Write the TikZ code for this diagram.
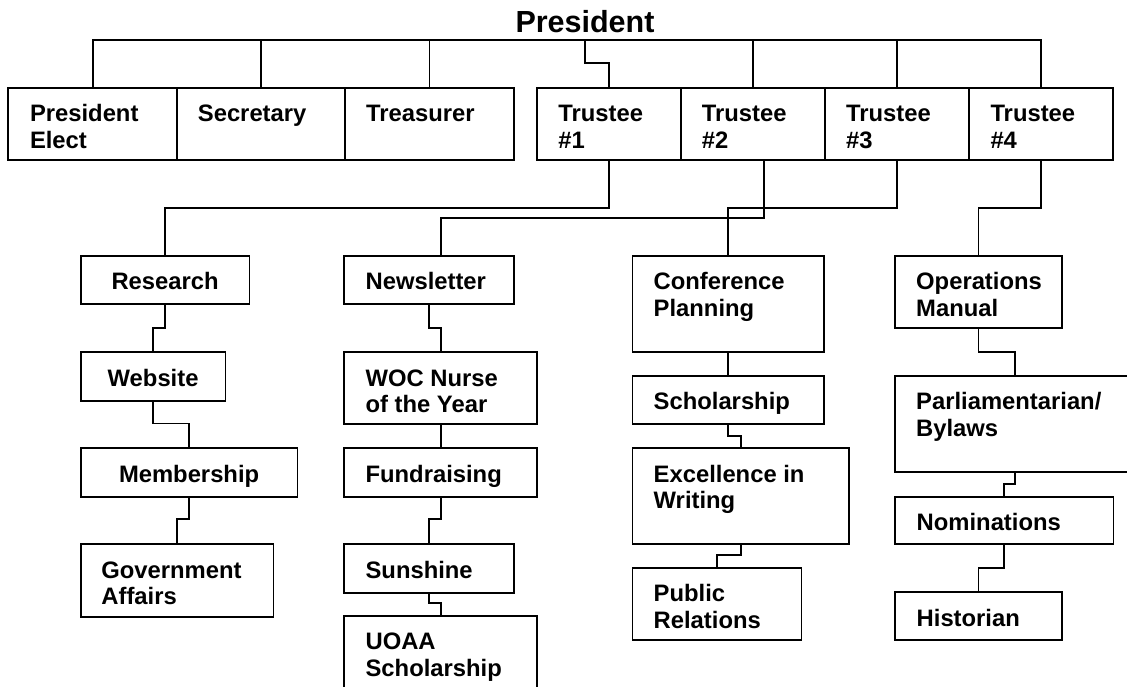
\documentclass[tikz,border=0pt]{standalone}
\usepackage{fontspec}
\setmainfont{Liberation Sans}
\usetikzlibrary{calc}
\newcommand\lblfont{\bfseries\fontsize{23.8}{26.7}\selectfont}
\newcommand\presfont{\bfseries\fontsize{30.5}{33}\selectfont}
\tikzset{
  box/.style={draw, line width=1.9pt, rectangle, inner sep=0pt, outer sep=0pt, anchor=north west},
  lbl/.style={inner sep=0pt, font=\lblfont, align=left, anchor=base west},
  clbl/.style={inner sep=0pt, font=\lblfont, align=center, anchor=base},
  con/.style={line width=1.9pt},
}
\begin{document}
\begin{tikzpicture}[x=1pt,y=-1pt]
\useasboundingbox (0,0) rectangle (1127,687);
% title
\node[inner sep=0pt, font=\presfont, anchor=base] (pres) at (585,32.3) {President};
\coordinate (bus) at (585,40);
% top row
\node[box, minimum width=168.7pt, minimum height=72.6pt] (pe) at (8.3,87.7) {};
\node[box, minimum width=168pt, minimum height=72.6pt] (sec) at (177,87.7) {};
\node[box, minimum width=169pt, minimum height=72.6pt] (tre) at (345,87.7) {};
\node[box, minimum width=144.3pt, minimum height=72.6pt] (t1) at (536.7,87.7) {};
\node[box, minimum width=144pt, minimum height=72.6pt] (t2) at (681,87.7) {};
\node[box, minimum width=144pt, minimum height=72.6pt] (t3) at (825,87.7) {};
\node[box, minimum width=144pt, minimum height=72.6pt] (t4) at (969,87.7) {};
% (for two-line labels the base anchor is the last line's baseline)
\node[lbl] (peT) at ($(pe.north west)+(21.5,60.7)$) {President\\Elect};
\node[lbl] (secT) at ($(sec.north west)+(20.7,34)$) {Secretary};
\node[lbl] (treT) at ($(tre.north west)+(21,34)$) {Treasurer};
\node[lbl] (t1T) at ($(t1.north west)+(21.5,60.7)$) {Trustee\\\#1};
\node[lbl] (t2T) at ($(t2.north west)+(20.7,60.7)$) {Trustee\\\#2};
\node[lbl] (t3T) at ($(t3.north west)+(21,60.7)$) {Trustee\\\#3};
\node[lbl] (t4T) at ($(t4.north west)+(21.3,60.7)$) {Trustee\\\#4};
% column 1
\node[box, minimum width=168.8pt, minimum height=48pt] (res) at (80.7,256) {};
\node[box, minimum width=144.8pt, minimum height=48.4pt] (web) at (80.7,352.3) {};
\node[box, minimum width=216.8pt, minimum height=48.4pt] (mem) at (80.7,448.3) {};
\node[box, minimum width=192.8pt, minimum height=72.4pt] (gov) at (80.7,544.3) {};
\node[clbl] (resT) at ($(res.north)+(0,33.7)$) {Research};
\node[clbl] (webT) at ($(web.north)+(0,33.7)$) {Website};
\node[clbl] (memT) at ($(mem.north)+(0,33.7)$) {Membership};
\node[lbl] (govT) at ($(gov.north west)+(20.5,60.4)$) {Government\\Affairs};
% column 2
\node[box, minimum width=169.4pt, minimum height=48pt] (news) at (344.4,256) {};
\node[box, minimum width=192.6pt, minimum height=71.7pt] (woc) at (344.4,352.3) {};
\node[box, minimum width=192.6pt, minimum height=48.4pt] (fund) at (344.4,448.3) {};
\node[box, minimum width=169.4pt, minimum height=48.4pt] (sun) at (344.4,544.3) {};
\node[box, minimum width=192.6pt, minimum height=80pt] (uoaa) at (344.4,616) {};
\node[lbl] (newsT) at ($(news.north west)+(21,33.7)$) {Newsletter};
\node[lbl] (wocT) at ($(woc.north west)+(21,60.4)$) {WOC Nurse\\of the Year};
\node[lbl] (fundT) at ($(fund.north west)+(21,33.7)$) {Fundraising};
\node[lbl] (sunT) at ($(sun.north west)+(21,33.7)$) {Sunshine};
\node[lbl] (uoaaT) at ($(uoaa.north west)+(21,60.4)$) {UOAA\\Scholarship};
% column 3
\node[box, minimum width=191.5pt, minimum height=96.3pt] (conf) at (632.5,256) {};
\node[box, minimum width=191.5pt, minimum height=48pt] (sch) at (632.5,376) {};
\node[box, minimum width=216.8pt, minimum height=96pt] (exc) at (632.5,448.3) {};
\node[box, minimum width=169pt, minimum height=71.7pt] (pr) at (632.5,568) {};
\node[lbl] (confT) at ($(conf.north west)+(21,60.4)$) {Conference\\Planning};
\node[lbl] (schT) at ($(sch.north west)+(21,33.7)$) {Scholarship};
\node[lbl] (excT) at ($(exc.north west)+(21,60.4)$) {Excellence in\\Writing};
\node[lbl] (prT) at ($(pr.north west)+(21,60.4)$) {Public\\Relations};
% column 4
\node[box, minimum width=167pt, minimum height=72.3pt] (ops) at (895,256) {};
\node[box, minimum width=240pt, minimum height=95.7pt] (parl) at (895,376) {};
\node[box, minimum width=218.5pt, minimum height=47.6pt] (nom) at (895,496.7) {};
\node[box, minimum width=167pt, minimum height=47.7pt] (hist) at (895,592.3) {};
\node[lbl] (opsT) at ($(ops.north west)+(21,60.4)$) {Operations\\Manual};
\node[lbl] (parlT) at ($(parl.north west)+(21,60.4)$) {Parliamentarian/\\Bylaws};
\node[lbl] (nomT) at ($(nom.north west)+(21.5,33.7)$) {Nominations};
\node[lbl] (histT) at ($(hist.north west)+(21.5,33.7)$) {Historian};
% connectors from president bus
\draw[con] (bus) -| (pe.north);
\draw[con] (bus) -| (sec.north);
\draw[con] (bus) -| (tre.north);
\draw[con] (bus) |- ($(t1.north)+(0,-24.4)$) -- (t1.north);
\draw[con] (bus) -| (t2.north);
\draw[con] (bus) -| (t3.north);
\draw[con] (bus) -| (t4.north);
% trustees to committees
\draw[con] (t1.south) -- ++(0,47.4) -| (res.north);
\draw[con] ($(t2.south)+(11.3,0)$) -- ++(0,57.4) -| (news.north -| woc.north);
\draw[con] (t3.south) -- ++(0,47.4) -| (conf.north);
\draw[con] (t4.south) -- ++(0,47.4) -| (ops.north);
% chains
\draw[con] (res.south) -- ++(0,23.7) -| (web.north);
\draw[con] (web.south) -- ++(0,22.8) -| (mem.north);
\draw[con] (mem.south) -- ++(0,22.6) -| (gov.north);
\draw[con] (news.south) -- ++(0,23.7) -| (woc.north);
\draw[con] (woc.south) -- (fund.north);
\draw[con] (fund.south) -- ++(0,22.6) -| (sun.north);
\draw[con] (sun.south) -- ++(0,10.6) -| (uoaa.north);
\draw[con] (conf.south) -- (sch.north);
\draw[con] (sch.south) -- ++(0,12) -| (exc.north);
\draw[con] (exc.south) -- ++(0,11) -| (pr.north);
\draw[con] (ops.south) -- ++(0,23.7) -| (parl.north);
\draw[con] (parl.south) -- ++(0,12.6) -| (nom.north);
\draw[con] (nom.south) -- ++(0,23.4) -| (hist.north);
\end{tikzpicture}
\end{document}
